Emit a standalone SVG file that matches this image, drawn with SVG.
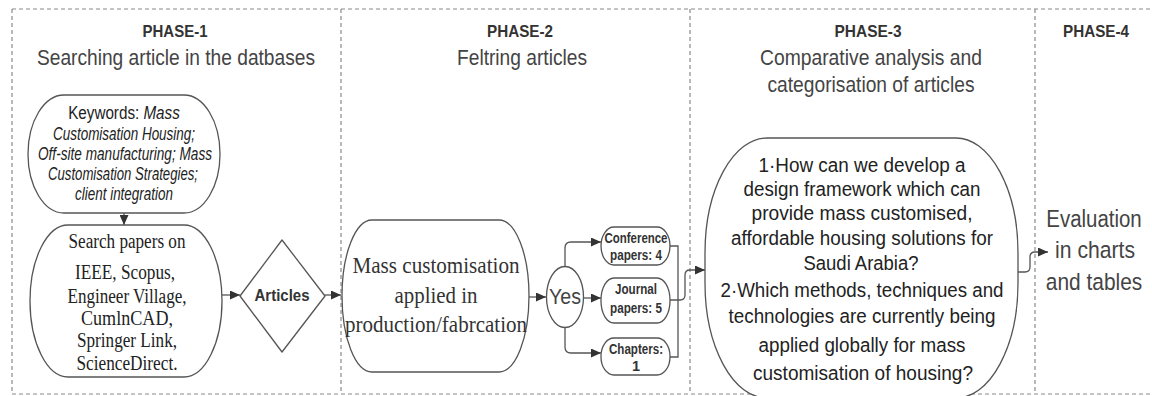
<svg xmlns="http://www.w3.org/2000/svg" width="1152" height="396" viewBox="0 0 1152 396">
<style>
.frame{fill:none;stroke:#8a8a8a;stroke-width:1.2;stroke-dasharray:4 3}
.box{fill:#fff;stroke:#555;stroke-width:1.3}
.con{fill:none;stroke:#555;stroke-width:1.3}
.ph{font-family:"Liberation Sans",Arial,sans-serif;font-weight:bold;font-size:17px;fill:#333;text-anchor:middle}
.sub{font-family:"Liberation Sans",Arial,sans-serif;font-size:21.5px;fill:#444;text-anchor:middle}
.kw{font-family:"Liberation Sans",Arial,sans-serif;font-size:17.5px;fill:#222;text-anchor:middle}
.it{font-style:italic}
.sr{font-family:"Liberation Serif","Times New Roman",serif;font-size:20px;fill:#222;text-anchor:middle}
.ms{font-family:"Liberation Serif","Times New Roman",serif;font-size:23.5px;fill:#333;text-anchor:middle}
.bd{font-family:"Liberation Sans",Arial,sans-serif;font-weight:bold;fill:#333;text-anchor:middle}
.q{font-family:"Liberation Sans",Arial,sans-serif;font-size:20px;fill:#222;text-anchor:middle}
.ev{font-family:"Liberation Sans",Arial,sans-serif;font-size:23.5px;fill:#444;text-anchor:middle}
</style>
<defs>
<marker id="ah" markerUnits="userSpaceOnUse" markerWidth="11" markerHeight="9" refX="10" refY="4.5" orient="auto">
<path d="M0,0 L10,4.5 L0,9 z" fill="#333"/>
</marker>
</defs>
<rect x="0" y="0" width="1152" height="396" fill="#fff"/>
<g id="frames">
<path class="frame" d="M12,9 H1160 M12,9 V394 H1160 M341,9 V394 M690,9 V394 M1035,9 V394"/>
</g>
<g id="titles">
<text class="ph" x="175" y="37" textLength="65" lengthAdjust="spacingAndGlyphs">PHASE-1</text>
<text class="sub" x="176" y="65" textLength="278" lengthAdjust="spacingAndGlyphs">Searching article in the datbases</text>
<text class="ph" x="520" y="37" textLength="66" lengthAdjust="spacingAndGlyphs">PHASE-2</text>
<text class="sub" x="522" y="65" textLength="130" lengthAdjust="spacingAndGlyphs">Feltring articles</text>
<text class="ph" x="868" y="37" textLength="67" lengthAdjust="spacingAndGlyphs">PHASE-3</text>
<text class="sub" x="871" y="65" textLength="222" lengthAdjust="spacingAndGlyphs">Comparative analysis and</text>
<text class="sub" x="871" y="92" textLength="207" lengthAdjust="spacingAndGlyphs">categorisation of articles</text>
<text class="ph" x="1096" y="37" textLength="66" lengthAdjust="spacingAndGlyphs">PHASE-4</text>
</g>
<g id="connectors">
<line class="con" x1="124" y1="213" x2="124" y2="225" marker-end="url(#ah)"/>
<line class="con" x1="222" y1="295" x2="240" y2="295" marker-end="url(#ah)"/>
<line class="con" x1="325" y1="295" x2="341" y2="295" marker-end="url(#ah)"/>
<line class="con" x1="529" y1="297" x2="546" y2="297" marker-end="url(#ah)"/>
<path class="con" d="M565,266 V248 Q565,242 571,242 H601" marker-end="url(#ah)"/>
<line class="con" x1="583" y1="298" x2="601" y2="298" marker-end="url(#ah)"/>
<path class="con" d="M565,327 V347 Q565,353 571,353 H601" marker-end="url(#ah)"/>
<path class="con" d="M670,246 H678 V357 H670"/>
<path class="con" d="M670,300 H680 Q685,300 685,295 V275 Q685,270 690,270 H705" marker-end="url(#ah)"/>
<path class="con" d="M1018,272 H1025 Q1030,272 1030,267 V257 Q1030,252 1035,252 H1048" marker-end="url(#ah)"/>
</g>
<g id="keywords">
<rect class="box" x="28" y="95" width="192" height="118" rx="36" ry="59"/>
<text class="kw" transform="translate(124,119) scale(0.87,1)" x="0" y="0">Keywords: <tspan class="it">Mass</tspan></text>
<text class="kw it" x="124" y="140" textLength="142" lengthAdjust="spacingAndGlyphs">Customisation Housing;</text>
<text class="kw it" x="125" y="160" textLength="174" lengthAdjust="spacingAndGlyphs">Off-site manufacturing; Mass</text>
<text class="kw it" x="123" y="180" textLength="150" lengthAdjust="spacingAndGlyphs">Customisation Strategies;</text>
<text class="kw it" x="124" y="200" textLength="98" lengthAdjust="spacingAndGlyphs">client integration</text>
</g>
<g id="search">
<rect class="box" x="30" y="225" width="192" height="152" rx="38" ry="76"/>
<text class="sr" x="127" y="248" textLength="117" lengthAdjust="spacingAndGlyphs">Search papers on</text>
<text class="sr" x="125" y="279" textLength="100" lengthAdjust="spacingAndGlyphs">IEEE, Scopus,</text>
<text class="sr" x="127" y="303" textLength="119" lengthAdjust="spacingAndGlyphs">Engineer Village,</text>
<text class="sr" x="127" y="325" textLength="92" lengthAdjust="spacingAndGlyphs">CumlnCAD,</text>
<text class="sr" x="127" y="347" textLength="100" lengthAdjust="spacingAndGlyphs">Springer Link,</text>
<text class="sr" x="127" y="370" textLength="101" lengthAdjust="spacingAndGlyphs">ScienceDirect.</text>
</g>
<g id="articles">
<polygon class="box" stroke-linejoin="round" points="282,240 325,296 282,352 240,296"/>
<text class="bd" x="282" y="301" font-size="17" textLength="55" lengthAdjust="spacingAndGlyphs">Articles</text>
</g>
<g id="mass">
<rect class="box" x="342" y="220" width="187" height="152" rx="30" ry="76"/>
<text class="ms" x="436" y="273" textLength="167" lengthAdjust="spacingAndGlyphs">Mass customisation</text>
<text class="ms" x="436" y="303" textLength="83" lengthAdjust="spacingAndGlyphs">applied in</text>
<text class="ms" x="436" y="332" textLength="182" lengthAdjust="spacingAndGlyphs">production/fabrcation</text>
</g>
<g id="yes">
<ellipse class="box" cx="565" cy="297" rx="18.5" ry="30.5"/>
<text class="sub" x="565" y="304" font-size="22" fill="#333" textLength="32" lengthAdjust="spacingAndGlyphs">Yes</text>
</g>
<g id="conference">
<rect class="box" x="601" y="227" width="69" height="38" rx="13" ry="19"/>
<text class="bd" x="636" y="243" font-size="14.5" textLength="63" lengthAdjust="spacingAndGlyphs">Conference</text>
<text class="bd" x="636" y="260" font-size="14.5" textLength="52" lengthAdjust="spacingAndGlyphs">papers: 4</text>
</g>
<g id="journal">
<rect class="box" x="601" y="278" width="69" height="45" rx="13" ry="22"/>
<text class="bd" x="636" y="294" font-size="14.5" textLength="42" lengthAdjust="spacingAndGlyphs">Journal</text>
<text class="bd" x="636" y="313" font-size="14.5" textLength="52" lengthAdjust="spacingAndGlyphs">papers: 5</text>
</g>
<g id="chapters">
<rect class="box" x="601" y="338" width="69" height="37" rx="13" ry="18"/>
<text class="bd" x="636" y="354" font-size="14.5" textLength="54" lengthAdjust="spacingAndGlyphs">Chapters:</text>
<text class="bd" x="636" y="371" font-size="14.5">1</text>
</g>
<g id="questions">
<rect class="box" x="705" y="138" width="313" height="260" rx="62" ry="115"/>
<text class="q" x="862" y="172" textLength="207" lengthAdjust="spacingAndGlyphs">1·How can we develop a</text>
<text class="q" x="862" y="196" textLength="237" lengthAdjust="spacingAndGlyphs">design framework which can</text>
<text class="q" x="862" y="220" textLength="221" lengthAdjust="spacingAndGlyphs">provide mass customised,</text>
<text class="q" x="862" y="245" textLength="262" lengthAdjust="spacingAndGlyphs">affordable housing solutions for</text>
<text class="q" x="861" y="270" textLength="115" lengthAdjust="spacingAndGlyphs">Saudi Arabia?</text>
<text class="q" x="862" y="297" textLength="283" lengthAdjust="spacingAndGlyphs">2·Which methods, techniques and</text>
<text class="q" x="862" y="323" textLength="267" lengthAdjust="spacingAndGlyphs">technologies are currently being</text>
<text class="q" x="862" y="352" textLength="207" lengthAdjust="spacingAndGlyphs">applied globally for mass</text>
<text class="q" x="863" y="380" textLength="220" lengthAdjust="spacingAndGlyphs">customisation of housing?</text>
</g>
<g id="evaluation">
<text class="ev" transform="translate(1094,227) scale(0.87,1)" x="0" y="0">Evaluation</text>
<text class="ev" transform="translate(1095,258) scale(0.9,1)" x="0" y="0">in charts</text>
<text class="ev" transform="translate(1094,290) scale(0.89,1)" x="0" y="0">and tables</text>
</g>
</svg>
